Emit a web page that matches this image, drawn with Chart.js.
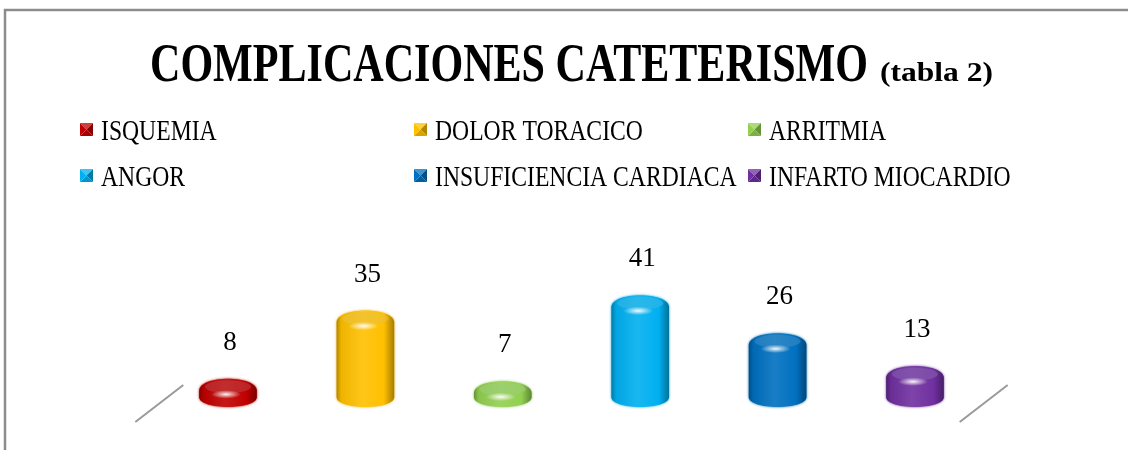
<!DOCTYPE html>
<html><head><meta charset="utf-8">
<script src="https://cdn.jsdelivr.net/npm/chart.js@4.4.1/dist/chart.umd.min.js"></script>
<style>html,body{margin:0;padding:0;background:#fff;overflow:hidden}#wrap{width:1128px;height:450px}</style>
</head><body><div id="wrap"><canvas id="c" width="1128" height="450"></canvas></div>
<script>
// ---- data ----
const titleMain = 'COMPLICACIONES CATETERISMO';
const titleSub = '(tabla 2)';
const categories = ['ISQUEMIA', 'DOLOR TORACICO', 'ARRITMIA', 'ANGOR', 'INSUFICIENCIA CARDIACA', 'INFARTO MIOCARDIO'];
const values = [8, 35, 7, 41, 26, 13];
const colors = ['#c00000', '#ffc000', '#92d050', '#00b0f0', '#0070c0', '#7030a0'];
const yMin = 0, yMax = 50;

const SERIF = '"Liberation Serif", "DejaVu Serif", serif';

function shade(hex, f) {
  const n = parseInt(hex.slice(1), 16);
  let r = n >> 16, g = (n >> 8) & 255, b = n & 255;
  if (f >= 0) { r += (255 - r) * f; g += (255 - g) * f; b += (255 - b) * f; }
  else { r *= 1 + f; g *= 1 + f; b *= 1 + f; }
  return 'rgb(' + (r | 0) + ',' + (g | 0) + ',' + (b | 0) + ')';
}
function toward(hex, target, f) {
  const n = parseInt(hex.slice(1), 16), m = parseInt(target.slice(1), 16);
  const a = [n >> 16, (n >> 8) & 255, n & 255], b = [m >> 16, (m >> 8) & 255, m & 255];
  return 'rgb(' + a.map((v, i) => (v + (b[i] - v) * f) | 0).join(',') + ')';
}

function drawText(ctx, text, x, y, font, scaleX, targetW) {
  ctx.save();
  ctx.font = font;
  let s = scaleX;
  if (targetW) s = targetW / ctx.measureText(text).width;
  ctx.translate(x, y);
  ctx.scale(s, 1);
  ctx.textAlign = 'left';
  ctx.textBaseline = 'alphabetic';
  ctx.fillStyle = '#000';
  ctx.fillText(text, 0, 0);
  ctx.restore();
}

function drawCylinder(ctx, cx, topC, base, w, color) {
  const rx = w / 2, ry = 8;
  const botC = base - ry;
  const tC = Math.min(topC, botC - 6);
  const g = ctx.createLinearGradient(cx - rx, 0, cx + rx, 0);
  g.addColorStop(0, shade(color, -0.3));
  g.addColorStop(0.08, shade(color, -0.06));
  g.addColorStop(0.45, shade(color, 0.1));
  g.addColorStop(0.82, color);
  g.addColorStop(1, shade(color, -0.35));
  ctx.save();
  ctx.beginPath();
  ctx.moveTo(cx - rx, tC + 4);
  ctx.bezierCurveTo(cx - rx, tC - 12, cx + rx, tC - 12, cx + rx, tC + 4);
  ctx.lineTo(cx + rx, botC - 2);
  ctx.bezierCurveTo(cx + rx, botC + 11.3, cx - rx, botC + 11.3, cx - rx, botC - 2);
  ctx.closePath();
  ctx.shadowColor = shade(color, -0.1);
  ctx.shadowBlur = 2.5;
  ctx.fillStyle = g;
  ctx.fill();
  ctx.shadowColor = 'transparent';
  ctx.shadowBlur = 0;
  // top face
  ctx.beginPath();
  ctx.ellipse(cx, tC, rx * 0.8, ry * 0.8, 0, 0, 2 * Math.PI);
  ctx.fillStyle = toward(color, '#b8c8d0', 0.3);
  ctx.globalAlpha = 0.6;
  ctx.fill();
  ctx.globalAlpha = 1;
  // highlight spot
  ctx.save();
  ctx.translate(cx - 2, tC + ry * 0.95);
  ctx.scale(1, 0.28);
  const hg = ctx.createRadialGradient(0, 0, 0, 0, 0, 15);
  hg.addColorStop(0, 'rgba(255,255,255,0.95)');
  hg.addColorStop(0.45, 'rgba(255,255,255,0.5)');
  hg.addColorStop(1, 'rgba(255,255,255,0)');
  ctx.beginPath();
  ctx.arc(0, 0, 15, 0, 2 * Math.PI);
  ctx.fillStyle = hg;
  ctx.fill();
  ctx.restore();
  ctx.restore();
}

function drawMarker(ctx, x, y, s, color) {
  const c = [x + s / 2, y + s / 2];
  const tris = [
    [[x, y], [x + s, y], c, shade(color, 0.25)],
    [[x + s, y], [x + s, y + s], c, shade(color, -0.3)],
    [[x + s, y + s], [x, y + s], c, shade(color, -0.15)],
    [[x, y + s], [x, y], c, color]
  ];
  tris.forEach(t => {
    ctx.beginPath();
    ctx.moveTo(t[0][0], t[0][1]); ctx.lineTo(t[1][0], t[1][1]); ctx.lineTo(t[2][0], t[2][1]);
    ctx.closePath();
    ctx.fillStyle = t[3];
    ctx.fill();
  });
}

const framePlugin = {
  id: 'frame',
  beforeDraw(chart) {
    const ctx = chart.ctx;
    ctx.save();
    ctx.fillStyle = '#fff';
    ctx.fillRect(0, 0, chart.width, chart.height);
    ctx.strokeStyle = '#8c8c8c';
    ctx.lineWidth = 2.5;
    ctx.beginPath();
    ctx.moveTo(5, 452); ctx.lineTo(5, 10); ctx.lineTo(1130, 10);
    ctx.stroke();
    // floor edges
    const a = chart.chartArea;
    ctx.strokeStyle = '#9a9a9a';
    ctx.lineWidth = 2;
    ctx.beginPath();
    ctx.moveTo(a.left - 24, a.bottom + 15); ctx.lineTo(a.left + 24, a.bottom - 22);
    ctx.moveTo(a.right - 24, a.bottom + 15); ctx.lineTo(a.right + 24, a.bottom - 22);
    ctx.stroke();
    ctx.restore();
  }
};

const cylinderPlugin = {
  id: 'cylinders',
  beforeDatasetDraw(chart, args) {
    const ctx = chart.ctx;
    const meta = args.meta;
    meta.data.forEach((el, i) => {
      const p = el.getProps(['x', 'y', 'base', 'width'], true);
      drawCylinder(ctx, p.x, p.y, p.base, p.width, colors[i]);
    });
    return false;
  },
  afterDatasetsDraw(chart) {
    const ctx = chart.ctx;
    const meta = chart.getDatasetMeta(0);
    ctx.save();
    ctx.font = '27px ' + SERIF;
    ctx.fillStyle = '#000';
    ctx.textAlign = 'center';
    ctx.textBaseline = 'middle';
    meta.data.forEach((el, i) => {
      ctx.fillText(String(values[i]), el.x + 2, el.y - 44);
    });
    ctx.restore();
  }
};

const headerPlugin = {
  id: 'header',
  afterDraw(chart) {
    const ctx = chart.ctx;
    drawText(ctx, titleMain, 150, 81, 'bold 54px ' + SERIF, 1, 718);
    drawText(ctx, titleSub, 880, 81, 'bold 28px ' + SERIF, 1, 113);
    const colX = [80, 414, 748];
    const rowY = [130, 176];
    categories.forEach((name, i) => {
      const cx = colX[i % 3], cy = rowY[Math.floor(i / 3)];
      drawMarker(ctx, cx, cy - 7, 13, colors[i]);
      drawText(ctx, name, cx + 21, cy + 9.5, '28.5px ' + SERIF, 0.83);
    });
  }
};

new Chart(document.getElementById('c'), {
  type: 'bar',
  data: {
    labels: categories,
    datasets: [{
      label: 'Complicaciones',
      data: values,
      backgroundColor: colors,
      barPercentage: 0.42,
      categoryPercentage: 1
    }]
  },
  options: {
    responsive: false,
    animation: false,
    devicePixelRatio: 1,
    layout: { padding: { top: 280.5, left: 159.3, right: 144.3, bottom: 43 } },
    scales: {
      x: { display: false },
      y: { display: false, min: yMin, max: yMax }
    },
    plugins: { legend: { display: false }, tooltip: { enabled: false }, title: { display: false } }
  },
  plugins: [framePlugin, cylinderPlugin, headerPlugin]
});
</script>
</body></html>
